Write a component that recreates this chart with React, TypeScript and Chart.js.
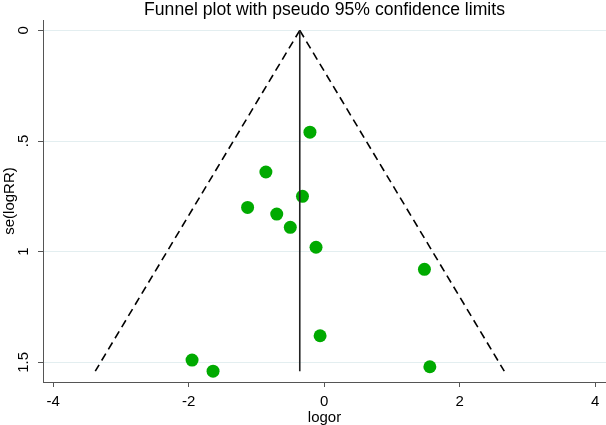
import React, { useEffect, useRef } from "react";
import { Chart, registerables } from "chart.js";

Chart.register(...registerables);

// ---- data ----
const logor = [-0.21, -0.86, -0.32, -1.13, -0.7, -0.5, -0.12, 1.48, -0.06, -1.95, -1.64, 1.56];
const seLogRR = [0.46, 0.64, 0.75, 0.8, 0.83, 0.89, 0.98, 1.08, 1.38, 1.49, 1.54, 1.52];
const pooledEffect = -0.36;
const maxSe = 1.54;
const zCrit = 1.96;
const xTicks = [-4, -2, 0, 2, 4];
const yTicks = [0, 0.5, 1, 1.5];
const yTickLabels = ["0", ".5", "1", "1.5"];
const chartTitle = "Funnel plot with pseudo 95% confidence limits";
const xTitle = "logor";
const yTitle = "se(logRR)";

const FONT = '"Liberation Sans", Arial, sans-serif';

const titlePlugin = {
  id: "centeredTitle",
  afterDraw(chart: any) {
    const { ctx, chartArea } = chart;
    ctx.save();
    ctx.font = `17.6px ${FONT}`;
    ctx.fillStyle = "#000";
    ctx.textAlign = "center";
    ctx.textBaseline = "middle";
    ctx.fillText(chartTitle, (chartArea.left + chartArea.right) / 2, 10);
    ctx.restore();
  },
};

export default function App() {
  const ref = useRef<HTMLCanvasElement | null>(null);

  useEffect(() => {
    document.body.style.margin = "0";
    const canvas = ref.current!;
    const points = logor.map((x, i) => ({ x, y: seLogRR[i] }));
    const lower = [
      { x: pooledEffect, y: 0 },
      { x: pooledEffect - zCrit * maxSe, y: maxSe },
    ];
    const upper = [
      { x: pooledEffect, y: 0 },
      { x: pooledEffect + zCrit * maxSe, y: maxSe },
    ];
    const center = [
      { x: pooledEffect, y: 0 },
      { x: pooledEffect, y: maxSe },
    ];
    const axisColor = "#555";
    const chart = new Chart(canvas, {
      type: "scatter",
      data: {
        datasets: [
          {
            type: "line",
            data: center,
            borderColor: "#222",
            borderWidth: 1.6,
            pointRadius: 0,
            order: 0,
          },
          {
            type: "line",
            data: lower,
            borderColor: "#000",
            borderWidth: 1.6,
            borderDash: [8, 5],
            pointRadius: 0,
            order: 0,
          },
          {
            type: "line",
            data: upper,
            borderColor: "#000",
            borderWidth: 1.6,
            borderDash: [8, 5],
            pointRadius: 0,
            order: 0,
          },
          {
            data: points,
            backgroundColor: "rgb(0,170,0)",
            borderColor: "rgb(0,170,0)",
            pointRadius: 6.5,
            borderWidth: 0,
            order: 1,
          },
        ],
      },
      options: {
        responsive: false,
        animation: false,
        devicePixelRatio: 1,
        layout: { autoPadding: false, padding: { top: 20, left: 0, right: 0, bottom: 0 } },
        plugins: { legend: { display: false }, tooltip: { enabled: false }, title: { display: false } },
        scales: {
          x: {
            type: "linear",
            min: -4.15,
            max: 4.16,
            afterBuildTicks: (s: any) => {
              s.ticks = xTicks.map((v) => ({ value: v }));
            },
            afterFit: (s: any) => {
              s.height = 43;
              s.paddingLeft = 0;
              s.paddingRight = 0;
            },
            grid: { drawOnChartArea: false, drawTicks: true, tickLength: 5, tickColor: axisColor },
            border: { color: axisColor, width: 1 },
            ticks: {
              color: "#000",
              font: { family: FONT, size: 15 },
              padding: 6,
              autoSkip: false,
              maxRotation: 0,
              minRotation: 0,
            },
            title: {
              display: true,
              text: xTitle,
              color: "#000",
              font: { family: FONT, size: 15 },
              padding: { top: 0, bottom: -2 },
            },
          },
          y: {
            type: "linear",
            reverse: true,
            min: -0.047,
            max: 1.589,
            afterBuildTicks: (s: any) => {
              s.ticks = yTicks.map((v) => ({ value: v }));
            },
            afterFit: (s: any) => {
              s.width = 43;
              s.paddingTop = 0;
              s.paddingBottom = 0;
            },
            grid: { color: "#e3eef0", lineWidth: 1, drawTicks: true, tickLength: 5, tickColor: axisColor },
            border: { color: axisColor, width: 1 },
            ticks: {
              color: "#000",
              font: { family: FONT, size: 15 },
              padding: 4,
              minRotation: 90,
              maxRotation: 90,
              crossAlign: "center",
              autoSkip: false,
              callback: (v: any) => {
                const i = yTicks.indexOf(Number(v));
                return i >= 0 ? yTickLabels[i] : "";
              },
            },
            title: {
              display: true,
              text: yTitle,
              color: "#000",
              font: { family: FONT, size: 15 },
              padding: { top: 1, bottom: 0 },
            },
          },
        },
      },
      plugins: [titlePlugin],
    } as any);
    return () => chart.destroy();
  }, []);

  return (
    <div style={{ position: "absolute", left: 0, top: 0, width: 606, height: 425, background: "#fff" }}>
      <canvas ref={ref} width={606} height={425} />
    </div>
  );
}
